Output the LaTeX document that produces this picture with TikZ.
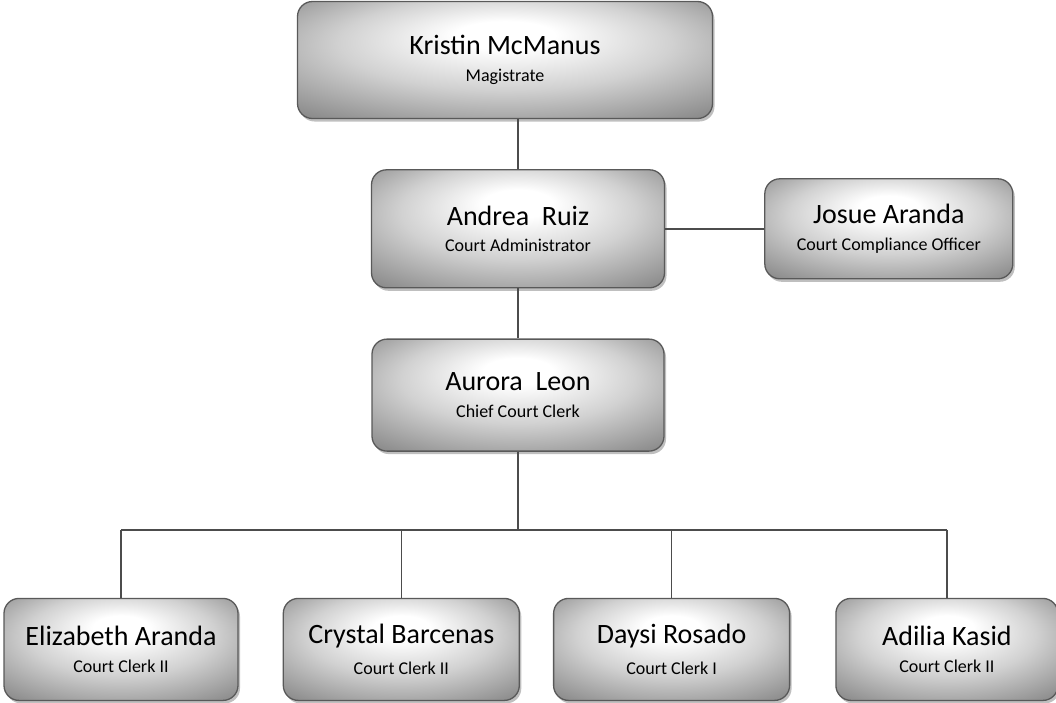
\documentclass[tikz,border=0pt]{standalone}
\usepackage{fontspec}
\setmainfont{Carlito}
\usetikzlibrary{positioning,shadows}

\pgfdeclareradialshading{boxshade}{\pgfpoint{0bp}{12bp}}{color(0bp)=(white); color(6bp)=(white); color(20bp)=(black!18); color(36bp)=(black!45); color(50bp)=(black!60)}

\tikzset{
  person/.style={draw=black!65, line width=1.3pt, rounded corners=15pt, shading=boxshade,
    drop shadow={shadow xshift=2pt, shadow yshift=-3pt, opacity=0.5},
    align=center, inner sep=0pt},
  link/.style={draw=black!70, line width=1.5pt},
}
\newcommand{\who}[2]{{\fontsize{28}{30}\selectfont #1}\\[13pt]{\fontsize{18}{22}\selectfont #2}}

\begin{document}
\begin{tikzpicture}[x=1pt,y=1pt]
\useasboundingbox (0,0) rectangle (1056,-702);

\node[person, minimum width=415pt, minimum height=117pt] (kristin) at (505,-60) {\who{Kristin McManus}{Magistrate}};
\node[person, minimum width=293pt, minimum height=118pt, below=50pt of kristin, xshift=13pt] (andrea) {\who{Andrea\ \ Ruiz}{Court Administrator}};
\node[person, minimum width=248pt, minimum height=100pt, right=99pt of andrea] (josue) {\who{Josue Aranda}{Court Compliance Officer}};
\node[person, minimum width=292pt, minimum height=112pt, below=50pt of andrea] (aurora) {\who{Aurora\ \ Leon}{Chief Court Clerk}};
\coordinate[below=78pt of aurora] (bus);

\node[person, minimum width=234pt, minimum height=102pt, below=146pt of aurora, xshift=-397pt] (elizabeth) {\who{Elizabeth Aranda}{Court Clerk II}};
\node[person, minimum width=236pt, minimum height=102pt, right=44pt of elizabeth] (crystal) {\who{Crystal Barcenas}{Court Clerk II}};
\node[person, minimum width=236pt, minimum height=102pt, right=33pt of crystal] (daysi) {\who{Daysi Rosado}{Court Clerk I}};
\node[person, minimum width=222pt, minimum height=102pt, right=45pt of daysi] (adilia) {\who{Adilia Kasid}{Court Clerk II}};

\draw[link] (kristin.south -| andrea) -- (andrea);
\draw[link] (andrea) -- (josue);
\draw[link] (andrea) -- (aurora);
\draw[link] (aurora) -- (bus);
\draw[link] (bus -| elizabeth) -- (bus -| adilia);
\draw[link] (bus -| elizabeth) -- (elizabeth);
\draw[link] (bus -| crystal) -- (crystal);
\draw[link] (bus -| daysi) -- (daysi);
\draw[link] (bus -| adilia) -- (adilia);

\end{tikzpicture}
\end{document}
